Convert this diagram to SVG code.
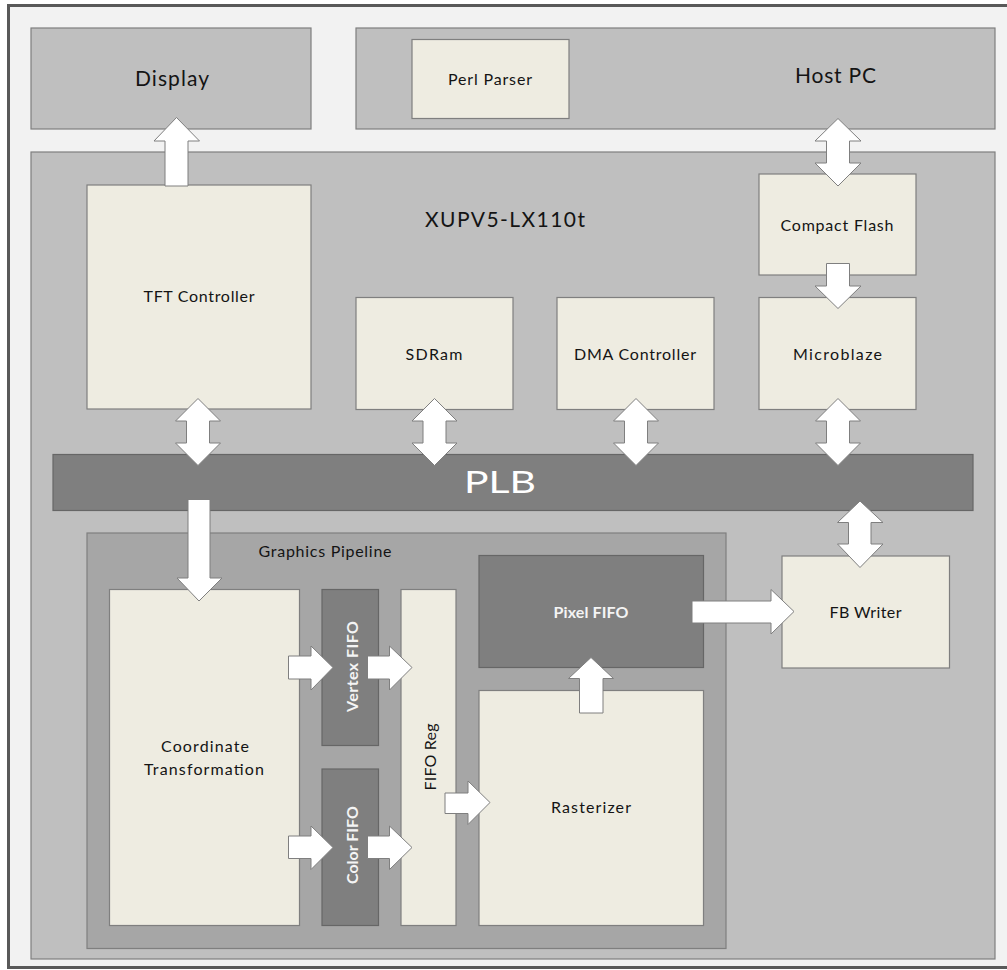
<svg xmlns="http://www.w3.org/2000/svg" width="1007" height="970" viewBox="0 0 1007 970">
<style>
text{font-family:Lato,"Open Sans","Liberation Sans",sans-serif;fill:#141414}
.big{font-size:21px}
.sm{font-size:16px}
.wt{fill:#f4f4f4;font-weight:bold}
.grey{fill:#bfbfbf;stroke:#7f7f7f;stroke-width:1.2}
.cream{fill:#eeece1;stroke:#7f7f7f;stroke-width:1.2}
.dark{fill:#7f7f7f;stroke:#666666;stroke-width:1.2}
.pipe{fill:#a6a6a6;stroke:#7f7f7f;stroke-width:1.2}
.arr{fill:#ffffff;stroke:#7f7f7f;stroke-width:1;stroke-linejoin:miter}
</style>
<rect x="8.5" y="5.5" width="1010" height="962" fill="#f2f2f2" stroke="#595959" stroke-width="3"/>
<g id="display">
<rect class="grey" x="31" y="28" width="280" height="101"/>
<text class="big" x="172" y="86" text-anchor="middle" textLength="74">Display</text>
</g>
<g id="hostpc">
<rect class="grey" x="356" y="28" width="639" height="101"/>
<text class="big" x="835.5" y="83" text-anchor="middle" textLength="81">Host PC</text>
</g>
<g id="perlparser">
<rect class="cream" x="412" y="39.5" width="157" height="79"/>
<text class="sm" x="490" y="85" text-anchor="middle" textLength="84">Perl Parser</text>
</g>
<g id="xupv5">
<rect class="grey" x="31" y="152" width="964" height="807" stroke-width="1.6"/>
<text class="big" x="505" y="227" text-anchor="middle" textLength="160">XUPV5-LX110t</text>
</g>
<g id="tft">
<rect class="cream" x="87" y="185" width="224" height="224"/>
<text class="sm" x="199" y="302" text-anchor="middle" textLength="111">TFT Controller</text>
</g>
<g id="sdram">
<rect class="cream" x="356" y="297.5" width="157" height="112"/>
<text class="sm" x="434" y="360" text-anchor="middle" textLength="57">SDRam</text>
</g>
<g id="dma">
<rect class="cream" x="557" y="297.5" width="157" height="112"/>
<text class="sm" x="635" y="360" text-anchor="middle" textLength="122">DMA Controller</text>
</g>
<g id="compactflash">
<rect class="cream" x="759" y="174" width="157" height="101"/>
<text class="sm" x="837" y="230.5" text-anchor="middle" textLength="113">Compact Flash</text>
</g>
<g id="microblaze">
<rect class="cream" x="759" y="297.5" width="157" height="112"/>
<text class="sm" x="837.5" y="360" text-anchor="middle" textLength="89">Microblaze</text>
</g>
<g id="plb">
<rect class="dark" x="53" y="454.5" width="920" height="56"/>
<text x="500" y="493" text-anchor="middle" textLength="72" lengthAdjust="spacingAndGlyphs" style="font-size:30px;fill:#ffffff">PLB</text>
</g>
<g id="pipeline">
<rect class="pipe" x="87" y="533" width="639" height="415.5"/>
<text class="sm" x="325" y="557" text-anchor="middle" textLength="133">Graphics Pipeline</text>
</g>
<g id="coord">
<rect class="cream" x="109.5" y="589.5" width="190" height="336"/>
<text class="sm" x="205" y="752" text-anchor="middle" textLength="88">Coordinate</text>
<text class="sm" x="204" y="775" text-anchor="middle" textLength="120">Transformation</text>
</g>
<g id="vertexfifo">
<rect class="dark" x="322" y="589.5" width="56.5" height="156"/>
<text class="sm wt" transform="translate(358,666.5) rotate(-90)" text-anchor="middle" textLength="91">Vertex FIFO</text>
</g>
<g id="colorfifo">
<rect class="dark" x="322" y="769" width="56.5" height="156.5"/>
<text class="sm wt" transform="translate(358,845) rotate(-90)" text-anchor="middle" textLength="78">Color FIFO</text>
</g>
<g id="fiforeg">
<rect class="cream" x="401" y="589.5" width="55" height="336"/>
<text class="sm" transform="translate(436,757) rotate(-90)" text-anchor="middle" textLength="67">FIFO Reg</text>
</g>
<g id="pixelfifo">
<rect class="dark" x="479" y="555.5" width="224.5" height="112"/>
<text class="sm wt" x="591" y="618" text-anchor="middle" textLength="75">Pixel FIFO</text>
</g>
<g id="rasterizer">
<rect class="cream" x="479" y="690.5" width="224.5" height="235"/>
<text class="sm" x="591" y="813" text-anchor="middle" textLength="80">Rasterizer</text>
</g>
<g id="fbwriter">
<rect class="cream" x="782" y="556" width="167.5" height="112"/>
<text class="sm" x="865.5" y="618" text-anchor="middle" textLength="72">FB Writer</text>
</g>
<g id="connectors">
<polygon class="arr" points="176.5,117.5 199.5,141 188,141 188,186 165,186 165,141 154,141"/>
<polygon class="arr" points="838,118.5 861,141 849.5,141 849.5,163 861,163 838,186 815,163 826.5,163 826.5,141 815,141"/>
<polygon class="arr" points="826.5,263.5 849.5,263.5 849.5,286 861,286 838,308.5 815,286 826.5,286"/>
<polygon class="arr" points="198,398.5 220.5,421 209.5,421 209.5,443 220.5,443 198,465.5 175.5,443 186.5,443 186.5,421 175.5,421"/>
<polygon class="arr" points="434.5,398.5 457,421 446,421 446,443 457,443 434.5,465.5 412,443 423,443 423,421 412,421"/>
<polygon class="arr" points="636,398.5 658.5,421 647.5,421 647.5,443 658.5,443 636,465.5 613.5,443 624.5,443 624.5,421 613.5,421"/>
<polygon class="arr" points="838,398.5 860.5,421 849.5,421 849.5,443 860.5,443 838,465.5 815.5,443 826.5,443 826.5,421 815.5,421"/>
<polygon class="arr" points="188,499.5 210,499.5 210,578 222,578 199,601 177,578 188,578"/>
<polygon class="arr" points="860,501 883,522.5 871,522.5 871,544 883,544 860,567.5 837.5,544 848.5,544 848.5,522.5 837.5,522.5"/>
<polygon class="arr" points="692,601 771,601 771,589.5 794,611.5 771,634 771,623 692,623"/>
<polygon class="arr" points="579.5,713 603,713 603,678.5 613.5,678.5 591,657.5 568.5,678.5 579.5,678.5"/>
<polygon class="arr" points="288.5,656 311,656 311,646 333,667.5 311,690 311,679 288.5,679"/>
<polygon class="arr" points="367.5,656 389.5,656 389.5,646 412,667.5 389.5,690 389.5,679 367.5,679"/>
<polygon class="arr" points="288.5,836 311,836 311,826 333,847.5 311,869.5 311,858.5 288.5,858.5"/>
<polygon class="arr" points="367.5,836 389.5,836 389.5,826 412,847.5 389.5,869.5 389.5,858.5 367.5,858.5"/>
<polygon class="arr" points="445,793 468,793 468,781 490,802.5 468,824.5 468,813.5 445,813.5"/>
</g>
</svg>
